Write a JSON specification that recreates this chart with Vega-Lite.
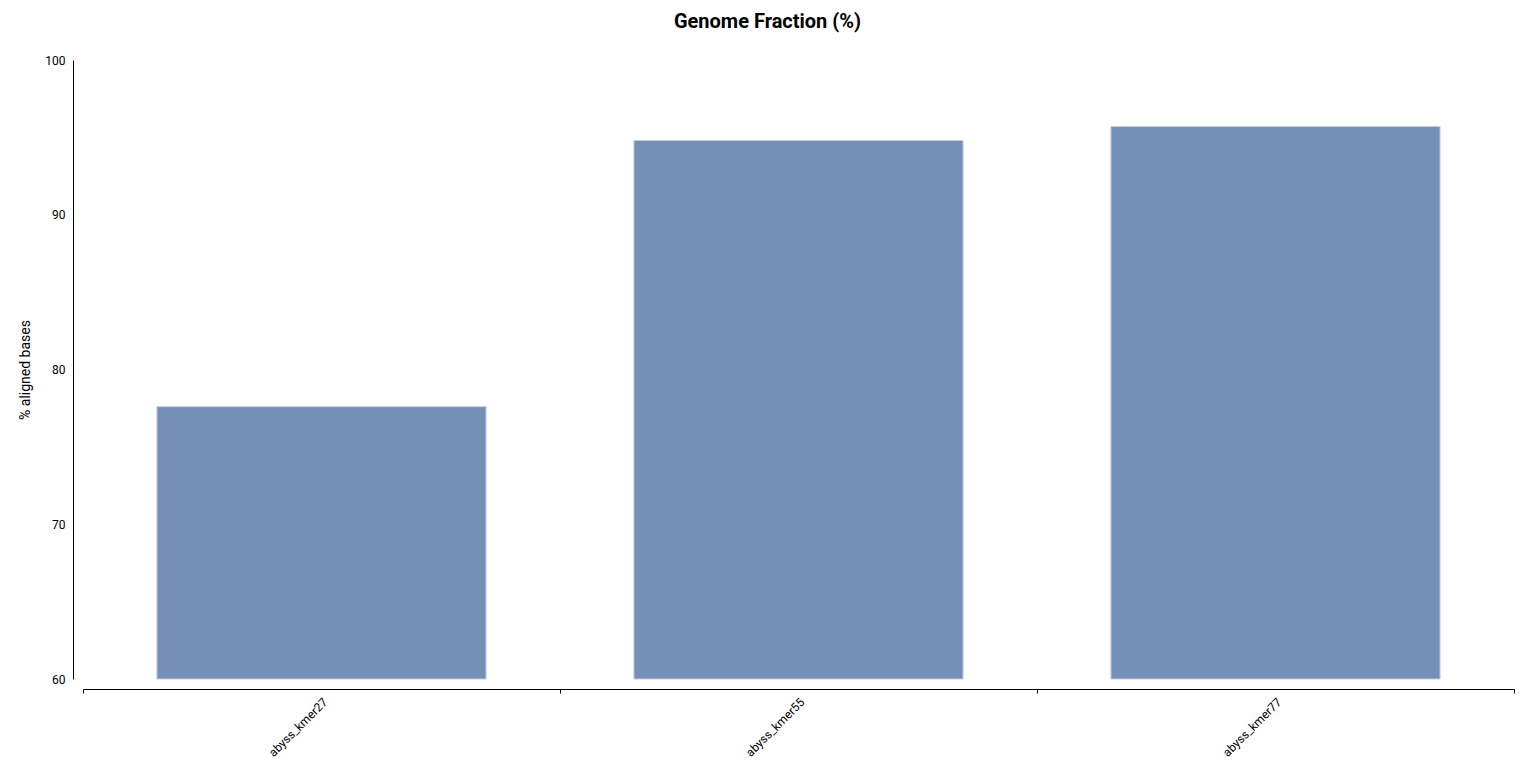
{
  "$schema": "https://vega.github.io/schema/vega-lite/v6.json",
  "width": 1431,
  "height": 619,
  "autosize": "none",
  "padding": {"left": 83, "top": 60, "right": 20, "bottom": 101},
  "background": "white",
  "title": {"text": "Genome Fraction (%)", "font": "Roboto", "fontSize": 20, "fontWeight": "bold", "color": "#000", "anchor": "middle", "offset": 22, "dx": -31},
  "config": {"view": {"stroke": null}, "font": "Roboto"},
  "data": {"values": [
    {"assembly": "abyss_kmer27", "fraction": 77.6},
    {"assembly": "abyss_kmer55", "fraction": 94.8},
    {"assembly": "abyss_kmer77", "fraction": 95.7}
  ]},
  "mark": {"type": "bar", "color": "#7490b8", "stroke": "#c8ccd4", "strokeWidth": 1, "width": {"band": 0.69}},
  "encoding": {
    "x": {"field": "assembly", "type": "nominal", "sort": null,
      "scale": {"paddingInner": 0, "paddingOuter": 0},
      "axis": {"title": null, "labelAngle": -45, "labelFont": "Roboto", "labelFontSize": 12, "labelColor": "#000", "domainColor": "#000", "tickColor": "#000", "tickBand": "extent", "tickSize": 4, "offset": 10, "grid": false, "labelPadding": 3}},
    "y": {"field": "fraction", "type": "quantitative",
      "scale": {"domain": [60, 100], "zero": false, "nice": false},
      "axis": {"title": "% aligned bases", "titleFont": "Roboto", "titleFontSize": 14, "titleFontWeight": "normal", "titleColor": "#000", "values": [60, 70, 80, 90, 100], "labelFont": "Roboto", "labelFontSize": 12, "labelColor": "#000", "domainColor": "#000", "ticks": false, "labelPadding": 8, "offset": 10, "grid": false, "titlePadding": 12}},
    "y2": {"datum": 60}
  }
}
